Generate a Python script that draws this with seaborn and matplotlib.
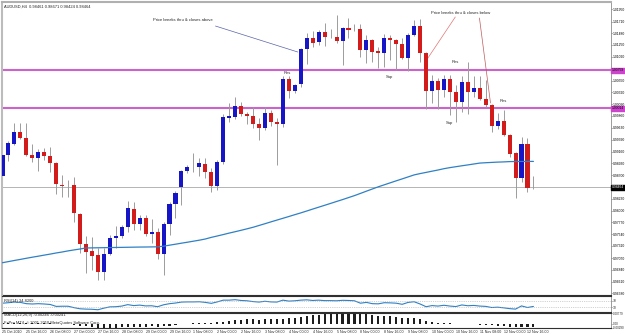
import matplotlib
matplotlib.use("Agg")
import numpy as np
import pandas as pd
import matplotlib.pyplot as plt
import seaborn as sns

# AUDUSD H4, 25 Oct 2010 - 12 Nov 2010, prices
opens = [0.98681, 0.99092, 0.99308, 0.99543, 0.99426, 0.99092, 0.99034, 0.99151, 0.99073, 0.98936,
         0.98504, 0.98504, 0.98504, 0.97935, 0.97347, 0.97210, 0.97131, 0.96798, 0.97151, 0.97465,
         0.97504, 0.97680, 0.98034, 0.97739, 0.97857, 0.97543, 0.97582, 0.97151, 0.97739, 0.98132,
         0.98465, 0.98779, 0.98857, 0.98857, 0.98916, 0.98759, 0.98485, 0.98955, 0.99818, 0.99838,
         1.00053, 0.99896, 0.99857, 0.99700, 0.99622, 0.99916, 0.99740, 0.99700, 1.00583, 1.00347,
         1.00485, 1.01171, 1.01387, 1.01308, 1.01504, 1.01406, 1.01406, 1.01328, 1.01583, 1.01563,
         1.01563, 1.01151, 1.01348, 1.01132, 1.01093, 1.01387, 1.01348, 1.01269, 1.00995, 1.01446,
         1.01622, 1.01093, 1.00347, 1.00544, 1.00367, 1.00583, 1.00328, 1.00132, 1.00524, 1.00328,
         1.00406, 1.00191, 1.00073, 0.99661, 0.99759, 0.99485, 0.99132, 0.98641, 0.99308, 0.98461]
highs = [0.99132, 0.99367, 0.99720, 0.99720, 0.99720, 0.99308, 0.99210, 0.99230, 0.99249, 0.98955,
         0.98700, 0.98602, 0.98661, 0.97955, 0.97504, 0.97484, 0.97269, 0.97269, 0.97524, 0.97700,
         0.97720, 0.98190, 0.98171, 0.97916, 0.97916, 0.97837, 0.97661, 0.97779, 0.98171, 0.98386,
         0.98798, 0.98896, 0.99132, 0.99034, 0.99034, 0.98838, 0.98994, 0.99896, 1.00112, 1.00230,
         1.00132, 0.99936, 1.00034, 0.99818, 1.00034, 0.99975, 0.99818, 1.00642, 1.00642, 1.00485,
         1.01191, 1.01485, 1.01524, 1.01544, 1.01681, 1.01563, 1.01838, 1.01603, 1.01779, 1.01661,
         1.01661, 1.01446, 1.01367, 1.01210, 1.01465, 1.01446, 1.01367, 1.01387, 1.01485, 1.01740,
         1.01759, 1.01112, 1.00661, 1.00602, 1.00661, 1.00661, 1.00465, 1.00642, 1.00916, 1.00642,
         1.00642, 1.00563, 1.00093, 0.99916, 0.99975, 0.99504, 0.99151, 0.99445, 0.99426, 0.98671]
lows = [0.98230, 0.98975, 0.99289, 0.99406, 0.99073, 0.98955, 0.98779, 0.98994, 0.98759, 0.98328,
        0.98269, 0.98269, 0.97779, 0.97171, 0.96778, 0.96837, 0.96641, 0.96641, 0.97131, 0.97269,
        0.97465, 0.97582, 0.97622, 0.97622, 0.97504, 0.97367, 0.97053, 0.96739, 0.97524, 0.97857,
        0.98112, 0.98739, 0.98759, 0.98681, 0.98641, 0.98367, 0.98406, 0.98916, 0.99740, 0.99798,
        0.99857, 0.99700, 0.99622, 0.99387, 0.99583, 0.99661, 0.98896, 0.99642, 1.00210, 1.00308,
        1.00426, 1.00877, 1.01210, 1.01250, 1.01230, 1.01387, 1.01289, 1.00857, 1.01387, 1.01524,
        1.01014, 1.00897, 1.00916, 1.00799, 1.00818, 1.00955, 1.00759, 1.00975, 1.00740, 1.01426,
        1.00916, 0.99995, 1.00112, 0.99995, 1.00230, 0.99877, 0.99740, 0.99936, 0.99896, 1.00230,
        1.00171, 1.00034, 0.99543, 0.99602, 0.99465, 0.99053, 0.98249, 0.98563, 0.98367, 0.98424]
closes = [0.99092, 0.99328, 0.99543, 0.99426, 0.99092, 0.99034, 0.99151, 0.99073, 0.98936, 0.98524,
          0.98494, 0.98500, 0.97955, 0.97347, 0.97190, 0.97112, 0.96798, 0.97151, 0.97465, 0.97504,
          0.97680, 0.98053, 0.97739, 0.97857, 0.97543, 0.97582, 0.97151, 0.97739, 0.98132, 0.98347,
          0.98779, 0.98857, 0.98862, 0.98936, 0.98759, 0.98485, 0.98955, 0.99838, 0.99857, 1.00053,
          0.99896, 0.99857, 0.99700, 0.99622, 0.99916, 0.99740, 0.99700, 1.00583, 1.00347, 1.00465,
          1.01171, 1.01387, 1.01289, 1.01504, 1.01406, 1.01397, 1.01328, 1.01583, 1.01544, 1.01554,
          1.01151, 1.01348, 1.01112, 1.01093, 1.01387, 1.01348, 1.01269, 1.00995, 1.01446, 1.01622,
          1.01093, 1.00347, 1.00544, 1.00367, 1.00583, 1.00328, 1.00132, 1.00524, 1.00328, 1.00406,
          1.00191, 1.00073, 0.99661, 0.99759, 0.99485, 0.99112, 0.98641, 0.99308, 0.98445, 0.98464]

# moving average (blue curve)
ma_line = [0.96980, 0.97002, 0.97024, 0.97045, 0.97067, 0.97088, 0.97108, 0.97129, 0.97149, 0.97171,
           0.97190, 0.97212, 0.97231, 0.97249, 0.97269, 0.97271, 0.97273, 0.97275, 0.97277, 0.97279,
           0.97281, 0.97283, 0.97285, 0.97287, 0.97288, 0.97290, 0.97292, 0.97304, 0.97324, 0.97343,
           0.97363, 0.97382, 0.97402, 0.97422, 0.97445, 0.97477, 0.97504, 0.97532, 0.97561, 0.97588,
           0.97616, 0.97645, 0.97675, 0.97710, 0.97745, 0.97781, 0.97816, 0.97851, 0.97886, 0.97922,
           0.97957, 0.97994, 0.98032, 0.98069, 0.98106, 0.98143, 0.98181, 0.98218, 0.98257, 0.98296,
           0.98339, 0.98383, 0.98426, 0.98469, 0.98508, 0.98547, 0.98586, 0.98624, 0.98663, 0.98702,
           0.98728, 0.98751, 0.98775, 0.98798, 0.98824, 0.98845, 0.98863, 0.98881, 0.98898, 0.98916,
           0.98934, 0.98941, 0.98947, 0.98953, 0.98957, 0.98963, 0.98965, 0.98966, 0.98966, 0.98967]

rsi_vals = [55, 58, 62, 60, 52, 50, 52, 50, 47, 35,
            36, 36, 27, 20, 18, 17, 14, 24, 32, 33,
            37, 46, 40, 43, 38, 39, 33, 45, 52, 56,
            62, 63, 63, 64, 60, 54, 63, 74, 74, 77,
            72, 70, 65, 62, 67, 63, 62, 74, 68, 70,
            74, 76, 72, 74, 71, 71, 70, 73, 72, 70,
            55, 60, 52, 51, 58, 57, 55, 48, 60, 64,
            50, 33, 40, 37, 42, 37, 34, 44, 39, 41,
            37, 35, 28, 30, 26, 21, 18, 38, 28, 34.82]

macd_vals = [0.0003, 0.0005, 0.0007, 0.0008, 0.0007, 0.0006, 0.0005, 0.0004, 0.0003, 0.0000,
             -0.0002, -0.0004, -0.0008, -0.0014, -0.0019, -0.0023, -0.0028, -0.0029, -0.0029, -0.0028,
             -0.0027, -0.0023, -0.0022, -0.0020, -0.0020, -0.0019, -0.0020, -0.0017, -0.0013, -0.0009,
             -0.0004, 0.0000, 0.0003, 0.0006, 0.0007, 0.0007, 0.0010, 0.0017, 0.0022, 0.0028,
             0.0031, 0.0033, 0.0033, 0.0032, 0.0034, 0.0034, 0.0033, 0.0039, 0.0042, 0.0045,
             0.0053, 0.0060, 0.0064, 0.0069, 0.0072, 0.0074, 0.0075, 0.0077, 0.0078, 0.0078,
             0.0073, 0.0070, 0.0065, 0.0060, 0.0058, 0.0056, 0.0053, 0.0047, 0.0046, 0.0047,
             0.0035, 0.0022, 0.0015, 0.0009, 0.0006, 0.0003, 0.0001, 0.0000, -0.0002, -0.0003,
             -0.0005, -0.0008, -0.0012, -0.0014, -0.0017, -0.0020, -0.0026, -0.0024, -0.0026, -0.00246]

date_labels = ["25 Oct 2010", "25 Oct 16:00", "26 Oct 08:00", "27 Oct 00:00", "27 Oct 16:00",
               "28 Oct 08:00", "29 Oct 00:00", "29 Oct 16:00", "1 Nov 08:00", "2 Nov 00:00",
               "2 Nov 16:00", "3 Nov 08:00", "4 Nov 00:00", "4 Nov 16:00", "5 Nov 08:00",
               "8 Nov 00:00", "8 Nov 16:00", "9 Nov 08:00", "10 Nov 00:00", "10 Nov 16:00",
               "11 Nov 08:00", "12 Nov 00:00", "12 Nov 16:00"]

price_ticks = [0.96380, 0.96610, 0.96840, 0.97070, 0.97310, 0.97540, 0.97770, 0.98000, 0.98230,
               0.98700, 0.98930, 0.99160, 0.99390, 0.99630, 0.99860, 1.00090, 1.00320, 1.00550,
               1.01020, 1.01250, 1.01480, 1.01710, 1.01950]

level_upper = 1.00759
level_lower = 1.00014
title = "AUDUSD,H4  0.98461 0.98671 0.98424 0.98464"

sns.set_style("white")
plt.rcParams['font.family'] = ['Liberation Sans', 'DejaVu Sans']

df = pd.DataFrame({'bar': range(len(closes)), 'open': opens, 'high': highs,
                   'low': lows, 'close': closes, 'ma': ma_line,
                   'rsi': rsi_vals, 'macd': macd_vals})
df['up'] = df['close'] >= df['open']

bull = '#1616c6'
bear = '#d21c1c'
wick = '#9c9c9c'
fs = 2.9
fs_axis = 2.45

fig = plt.figure(figsize=(6.25, 3.34), dpi=100)
ax = fig.add_axes([0.003, 0.1168, 0.9746, 0.8772])
ax_rsi = fig.add_axes([0.003, 0.0659, 0.9746, 0.0479], sharex=ax)
ax_macd = fig.add_axes([0.003, 0.018, 0.9746, 0.0449], sharex=ax)

# candles
ax.vlines(df['bar'], df['low'], df['high'], color=wick, lw=0.7, zorder=2)
body_lo = df[['open', 'close']].min(axis=1)
body_h = (df['close'] - df['open']).abs().clip(lower=0.00005)
ax.bar(df['bar'], body_h, bottom=body_lo, width=0.68,
       color=np.where(df['up'], bull, bear), lw=0, zorder=3)

sns.lineplot(data=df, x='bar', y='ma', ax=ax, color='#2f80c4', lw=0.9, zorder=4)

ax.axhline(level_upper, color='#cc62cc', lw=1.5, zorder=1)
ax.axhline(level_lower, color='#cc62cc', lw=1.5, zorder=1)
ax.axhline(closes[-1], color='#b4b4b4', lw=0.7, zorder=1)

ax.set_xlim(-0.1, 102.0)
ax.set_ylim(0.96347, 1.02093)
ax.set_xlabel('')
ax.set_ylabel('')
ax.yaxis.tick_right()
ax.set_yticks(price_ticks)
ax.set_yticklabels([f'{v:.5f}' for v in price_ticks])
ax.tick_params(axis='y', labelsize=fs_axis, length=0.9, width=0.4, pad=0.4, colors='black')
ax.tick_params(axis='x', bottom=False, labelbottom=False)

for lvl in (level_upper, level_lower):
    ax.text(1.0015, lvl, f'{lvl:.5f}', transform=ax.get_yaxis_transform(), fontsize=fs_axis,
            va='center', ha='left', color='black', clip_on=False, zorder=10,
            bbox=dict(boxstyle='square,pad=0.15', fc='#cc44cc', ec='#cc44cc'))
ax.text(1.0015, closes[-1], f'{closes[-1]:.5f}', transform=ax.get_yaxis_transform(),
        fontsize=fs_axis, va='center', ha='left', color='white', clip_on=False, zorder=10,
        bbox=dict(boxstyle='square,pad=0.15', fc='black', ec='black'))

ax.text(0.004, 0.986, title, transform=ax.transAxes, fontsize=fs, va='center', ha='left')

# notes
ax.text(25.3, 1.01740, 'Price breaks thru & closes above', fontsize=3.0, va='center', ha='left')
ax.plot([35.7, 49.5], [1.01622, 1.01112], color='#5a63a8', lw=0.5)
ax.text(71.9, 1.01877, 'Price breaks thru & closes below', fontsize=3.0, va='center', ha='left')
ax.plot([75.9, 71.2], [1.01799, 1.00975], color='#e07474', lw=0.5)
ax.plot([79.95, 81.8], [1.01779, 1.00112], color='#c05a5a', lw=0.5)
for bx, py, lab in [(47.8, 1.00700, 'Res'), (64.9, 1.00622, 'Sup'), (75.9, 1.00916, 'Res'),
                    (74.9, 0.99720, 'Sup'), (84.0, 1.00151, 'Res')]:
    ax.text(bx, py, lab, fontsize=3.0, va='center', ha='center')

# RSI
sns.lineplot(data=df, x='bar', y='rsi', ax=ax_rsi, color='#2f80c4', lw=0.8)
ax_rsi.axhline(70, color='#a8a8a8', ls=':', lw=0.5)
ax_rsi.axhline(30, color='#a8a8a8', ls=':', lw=0.5)
ax_rsi.set_ylim(0, 100)
ax_rsi.set_xlabel('')
ax_rsi.set_ylabel('')
ax_rsi.yaxis.tick_right()
ax_rsi.set_yticks([70, 30])
ax_rsi.set_yticklabels(['70', '30'])
ax_rsi.tick_params(axis='y', labelsize=fs_axis, length=0.9, width=0.4, pad=0.4)
ax_rsi.tick_params(axis='x', bottom=False, labelbottom=False)
ax_rsi.text(0.004, 0.71, f'RSI(14) {rsi_vals[-1]:.4f}', transform=ax_rsi.transAxes,
            fontsize=fs, va='center', ha='left')

# MACD
ax_macd.bar(df['bar'], df['macd'], width=0.35, color='#1e1e1e', lw=0)
ax_macd.set_ylim(-0.0031, 0.0081)
ax_macd.yaxis.tick_right()
ax_macd.set_yticks([0.00779, 0.0, -0.00290])
ax_macd.set_yticklabels(['0.00779', '0.00', '-0.00290'])
ax_macd.tick_params(axis='y', labelsize=2.2, length=0.9, width=0.4, pad=0.4)
ax_macd.set_xticks(list(range(0, len(closes), 4))[:len(date_labels)])
ax_macd.set_xticklabels(date_labels, ha='left')
ax_macd.tick_params(axis='x', labelsize=2.6, length=1.2, width=0.4, pad=0.4)
ax_macd.text(0.004, 0.87, 'MACD(12,26,9) -0.00246 -0.00241', transform=ax_macd.transAxes,
             fontsize=fs, va='center', ha='left')
ax_macd.text(0.004, 0.35, 'FxPro MT4, \u00a9 2001-2010 MetaQuotes Software Corp.',
             transform=ax_macd.transAxes, fontsize=fs, va='center', ha='left')

for a in (ax, ax_rsi, ax_macd):
    a.spines['left'].set_color('#bcbcbc')
    a.spines['left'].set_linewidth(1.5)
    a.spines['right'].set_color('#8c8c8c')
    a.spines['right'].set_linewidth(0.6)
    a.spines['bottom'].set_color('#303030')
    a.spines['bottom'].set_linewidth(0.8)
    a.spines['top'].set_color('#303030')
    a.spines['top'].set_linewidth(0.8)
ax.spines['top'].set_color('#b0b0b0')
ax.spines['top'].set_linewidth(1.5)

fig.savefig('out.png', dpi=100)
